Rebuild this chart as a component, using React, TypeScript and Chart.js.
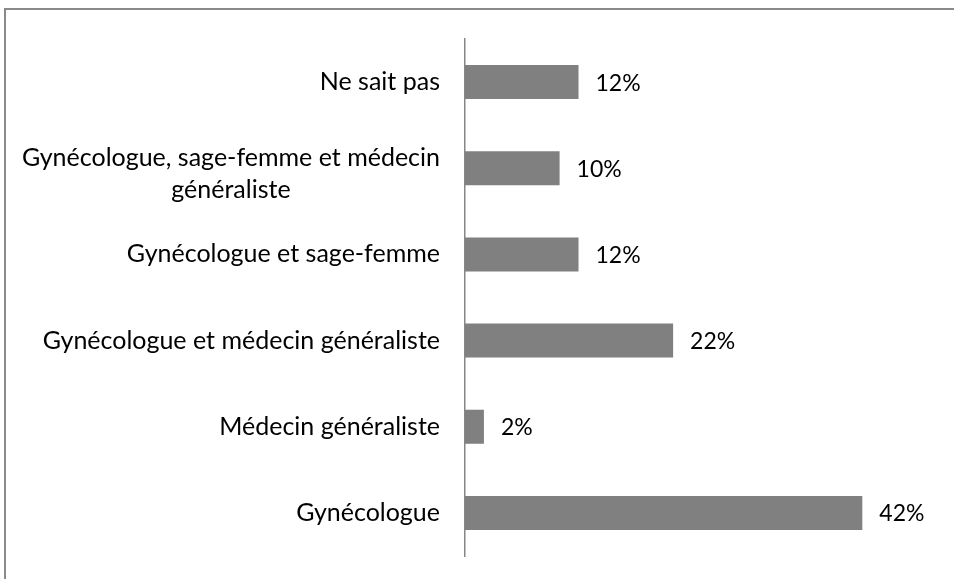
import React, { useEffect, useRef } from "react";
import { Chart, registerables } from "chart.js";

Chart.register(...registerables);

const categories: string[][] = [
  ["Ne sait pas"],
  ["Gynécologue, sage-femme et médecin", "généraliste"],
  ["Gynécologue et sage-femme"],
  ["Gynécologue et médecin généraliste"],
  ["Médecin généraliste"],
  ["Gynécologue"],
];
const values: number[] = [12, 10, 12, 22, 2, 42];
const valueLabels: string[] = ["12%", "10%", "12%", "22%", "2%", "42%"];

const FONT = "Lato, 'Open Sans', sans-serif";
const CAT_FONT_SIZE = 25;
const VAL_FONT_SIZE = 23;

export default function App() {
  const ref = useRef<HTMLCanvasElement | null>(null);

  useEffect(() => {
    if (!ref.current) return;

    const labelsPlugin = {
      id: "customLabels",
      afterDraw(chart: any) {
        const ctx = chart.ctx;
        const yScale = chart.scales.y;
        const meta = chart.getDatasetMeta(0);
        ctx.save();
        ctx.fillStyle = "#000000";
        ctx.textBaseline = "middle";
        // category labels
        ctx.font = `${CAT_FONT_SIZE}px ${FONT}`;
        const rightX = chart.chartArea.left - 25;
        const lineH = 32;
        categories.forEach((lines, i) => {
          const y = yScale.getPixelForTick(i);
          if (lines.length === 1) {
            ctx.textAlign = "right";
            ctx.fillText(lines[0], rightX, y);
          } else {
            const widest = Math.max(...lines.map((l) => ctx.measureText(l).width));
            const cx = rightX - widest / 2;
            ctx.textAlign = "center";
            lines.forEach((l, j) => {
              ctx.fillText(l, cx, y + 6 + (j - (lines.length - 1) / 2) * lineH);
            });
          }
        });
        // value labels
        ctx.font = `${VAL_FONT_SIZE}px ${FONT}`;
        ctx.textAlign = "left";
        meta.data.forEach((el: any, i: number) => {
          ctx.fillText(valueLabels[i], el.x + 17, el.y + 1);
        });
        ctx.restore();
      },
    };

    const chart = new Chart(ref.current, {
      type: "bar",
      data: {
        labels: categories.map((c) => c.join(" ")),
        datasets: [
          {
            data: values,
            backgroundColor: "#808080",
            borderWidth: 0,
            barPercentage: 0.395,
            categoryPercentage: 1,
          },
        ],
      },
      options: {
        indexAxis: "y",
        animation: false,
        responsive: false,
        devicePixelRatio: 1,
        layout: { padding: { left: 465, right: 16, top: 39, bottom: 23 } },
        plugins: {
          legend: { display: false },
          tooltip: { enabled: false },
        },
        scales: {
          x: {
            display: false,
            min: 0,
            max: 50,
          },
          y: {
            type: "category",
            grid: { display: false },
            ticks: { display: false },
            border: { display: true, color: "#868686", width: 1.5 },
            afterFit: (s: any) => {
              s.width = 0;
            },
          },
        },
      },
      plugins: [labelsPlugin],
    });
    return () => chart.destroy();
  }, []);

  return (
    <div
      style={{
        position: "fixed",
        left: 0,
        top: 0,
        width: 954,
        height: 579,
        background: "#ffffff",
        overflow: "hidden",
      }}
    >
      <div
        style={{
          position: "absolute",
          left: 4,
          top: 8,
          width: 970,
          height: 600,
          borderTop: "2px solid #8a8a8a",
          borderLeft: "2px solid #8a8a8a",
          boxSizing: "border-box",
        }}
      />
      <canvas
        ref={ref}
        width={954}
        height={579}
        style={{ position: "absolute", left: 0, top: 0 }}
      />
    </div>
  );
}
